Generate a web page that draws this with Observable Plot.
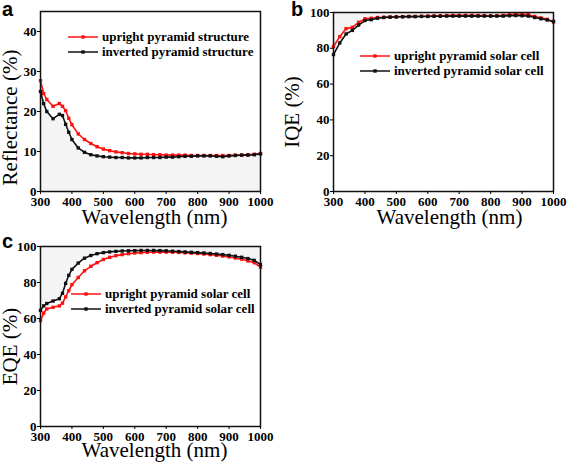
<!DOCTYPE html>
<html>
<head>
<meta charset="utf-8">
<script src="https://cdn.jsdelivr.net/npm/d3@7"></script>
<script src="https://cdn.jsdelivr.net/npm/@observablehq/plot@0.6"></script>
<style>
  body { margin: 0; background: #fff; }
  #wrap { position: relative; width: 567px; height: 465px; overflow: hidden; background: #fff; }
  .panel { position: absolute; }
  #wrap svg.panel text { font-family: "Liberation Serif", "Times New Roman", serif; }
  .tag { position: absolute; font: bold 20px "Liberation Sans", Arial, sans-serif; line-height: 18px; color: #000; }
  .legend { position: absolute; font: bold 13px "Liberation Serif", "Times New Roman", serif; color: #000; }
  .legend .row { display: flex; align-items: center; height: 15.5px; white-space: nowrap; }
  .legend svg { margin-right: 4px; }
</style>
</head>
<body>
<div id="wrap"></div>
<script>
// ---------- data ----------
const xTicks = [300, 400, 500, 600, 700, 800, 900, 1000];

// (a) reflectance
const wlA = [300,310,320,340,360,370,380,390,400,420,440,460,480,500,520,540,560,580,600,620,640,660,680,700,720,740,760,780,800,820,840,860,880,900,920,940,960,980,1000];
const reflUpright = [27.7,24.5,23.0,21.3,22.0,21.3,20.2,18.3,16.7,14.4,13.0,12.0,11.2,10.6,10.2,9.9,9.7,9.5,9.4,9.3,9.3,9.2,9.2,9.1,9.1,9.1,9.1,9.0,9.0,9.0,9.0,9.0,9.0,9.0,9.1,9.1,9.2,9.3,9.5];
const reflInverted = [25.0,22.0,20.0,18.2,19.3,19.0,16.8,14.8,13.0,10.9,9.8,9.2,8.9,8.7,8.6,8.5,8.5,8.4,8.4,8.4,8.5,8.5,8.5,8.6,8.6,8.7,8.8,8.8,8.9,8.9,8.9,8.8,8.7,8.9,9.0,9.1,9.1,9.2,9.4];
const yTicksA = [0, 10, 20, 30, 40];

// (b) IQE
const wlB = [300,320,340,360,380,400,420,440,460,480,500,520,540,560,580,600,620,640,660,680,700,720,740,760,780,800,820,840,860,880,900,920,940,960,980,1000];
const iqeUpright = [81,86.5,91,91.7,94.5,96.5,96.8,97.2,97.3,97.5,97.6,97.7,97.8,97.8,97.9,98.0,98.1,98.2,98.3,98.4,98.4,98.4,98.4,98.3,98.3,98.2,98.2,98.4,98.8,99.0,99.0,98.8,97.8,97.0,96.2,94.7];
const iqeInverted = [76.5,83,88,90,93,95.5,96,96.8,97.2,97.4,97.5,97.6,97.7,97.7,97.8,97.8,97.9,97.9,98,98,98,98,98,98,98,98,98,98,98.2,98.3,98.2,98,97.2,96.5,95.8,95];
const yTicksB = [0, 20, 40, 60, 80, 100];

// (c) EQE
const wlC = [300,310,320,340,360,370,380,390,400,420,440,460,480,500,520,540,560,580,600,620,640,660,680,700,720,740,760,780,800,820,840,860,880,900,920,940,960,980,1000];
const eqeUpright = [58.8,63,65.3,66.2,67,68.5,72,75.5,78.8,82.8,86.5,89,91,92.8,94,94.9,95.5,96,96.4,96.6,96.8,96.9,96.9,96.9,96.8,96.7,96.5,96.3,96.1,95.8,95.5,95.1,94.7,94.2,93.6,93,92,91,88.5];
const eqeInverted = [64.5,67,68.3,69.7,71,74,79.5,84,87.3,90.8,93.5,95,96,96.6,97,97.3,97.5,97.6,97.7,97.8,97.8,97.8,97.7,97.6,97.4,97.2,97,96.8,96.6,96.4,96.1,95.8,95.5,95.1,94.6,94,93.3,92.3,90];
const yTicksC = [0, 20, 40, 60, 80, 100];

const seriesNames = {
  a: ["upright pyramid structure", "inverted pyramid structure"],
  b: ["upright pyramid solar cell", "inverted pyramid solar cell"],
  c: ["upright pyramid solar cell", "inverted pyramid solar cell"]
};
const RED = "#ff1010", BLACK = "#111";

// ---------- drawing ----------
const wrap = document.getElementById("wrap");
const SERIF = "'Liberation Serif', 'Times New Roman', serif";

function makePanel(cfg) {
  const rows = cfg.wl.map((w, i) => ({w, up: cfg.up[i], inv: cfg.inv[i], top: cfg.yDomain[1], bottom: cfg.yDomain[0]}));
  const shade = cfg.shadeBelow
    ? Plot.areaY(rows, {x: "w", y1: "bottom", y2: "inv", fill: "#f4f4f4"})
    : Plot.areaY(rows, {x: "w", y1: "inv", y2: "top", fill: "#f4f4f4"});
  const chart = Plot.plot({
    width: cfg.width, height: cfg.height,
    marginLeft: cfg.ml, marginRight: cfg.mr, marginTop: cfg.mt, marginBottom: cfg.mb,
    style: {fontFamily: SERIF, fontSize: "13px", background: "transparent", overflow: "visible"},
    x: {domain: [300, 1000]},
    y: {domain: cfg.yDomain},
    marks: [
      shade,
      Plot.line(rows, {x: "w", y: "up", stroke: RED, strokeWidth: 1.6}),
      Plot.dot(rows, {x: "w", y: "up", symbol: "square", r: 1.9, fill: RED, stroke: "none"}),
      Plot.line(rows, {x: "w", y: "inv", stroke: BLACK, strokeWidth: 1.6}),
      Plot.dot(rows, {x: "w", y: "inv", symbol: "square", r: 1.9, fill: BLACK, stroke: "none"}),
      Plot.frame({stroke: "#111", strokeWidth: 1.5}),
      Plot.axisX({ticks: xTicks, tickFormat: d => String(d), label: null, tickSize: 3, tickPadding: 2,
                  fontSize: 13, fontWeight: "bold", fontFamily: SERIF}),
      Plot.axisY({ticks: cfg.yTicks, tickFormat: d => String(d), label: null, tickSize: 3, tickPadding: 1,
                  fontSize: 13, fontWeight: "bold", fontFamily: SERIF}),
      Plot.text(["Wavelength (nm)"], {frameAnchor: "bottom", dx: cfg.xTitleDx, dy: cfg.xTitleDy,
                  lineAnchor: "middle", textAnchor: "middle",
                  fontSize: 21, fontWeight: "normal", fontFamily: SERIF}),
      Plot.text([cfg.yLabel], {frameAnchor: "left", rotate: -90, dx: cfg.yTitleDx, dy: cfg.yTitleDy,
                  lineAnchor: "middle", textAnchor: "middle",
                  fontSize: 21, fontWeight: "normal", fontFamily: SERIF})
    ]
  });
  chart.classList.add("panel");
  chart.style.left = cfg.left + "px";
  chart.style.top = cfg.top + "px";
  wrap.appendChild(chart);

  // panel tag
  const tag = document.createElement("div");
  tag.className = "tag";
  tag.textContent = cfg.tag;
  tag.style.left = cfg.tagX + "px";
  tag.style.top = cfg.tagY + "px";
  wrap.appendChild(tag);

  // legend
  const leg = document.createElement("div");
  leg.className = "legend";
  leg.style.left = cfg.legX + "px";
  leg.style.top = cfg.legY + "px";
  [[RED, cfg.names[0]], [BLACK, cfg.names[1]]].forEach(([c, name]) => {
    const row = document.createElement("div");
    row.className = "row";
    row.innerHTML = `<svg width="30" height="8"><line x1="0" y1="4" x2="30" y2="4" stroke="${c}" stroke-width="1.5"/><rect x="13.3" y="2.3" width="3.4" height="3.4" fill="${c}"/></svg><span>${name}</span>`;
    leg.appendChild(row);
  });
  wrap.appendChild(leg);
}

makePanel({
  tag: "a", tagX: 2, tagY: 0,
  left: 0, top: 0, width: 280, height: 230, ml: 40, mr: 20, mt: 11, mb: 39,
  wl: wlA, up: reflUpright, inv: reflInverted, yDomain: [0, 45], yTicks: yTicksA,
  yLabel: "Reflectance (%)", xTitleDx: 4, xTitleDy: 26, yTitleDx: -30, yTitleDy: 16, shadeBelow: true,
  names: seriesNames.a, legX: 68, legY: 29
});
makePanel({
  tag: "b", tagX: 291, tagY: 0,
  left: 280, top: 0, width: 287, height: 230, ml: 53, mr: 14, mt: 12, mb: 39,
  wl: wlB, up: iqeUpright, inv: iqeInverted, yDomain: [0, 100], yTicks: yTicksB,
  yLabel: "IQE (%)", xTitleDx: 6, xTitleDy: 26, yTitleDx: -41, yTitleDy: 10, shadeBelow: false,
  names: seriesNames.b, legX: 360, legY: 48
});
makePanel({
  tag: "c", tagX: 2, tagY: 232,
  left: 0, top: 230, width: 280, height: 235, ml: 40, mr: 20, mt: 16, mb: 39,
  wl: wlC, up: eqeUpright, inv: eqeInverted, yDomain: [0, 100], yTicks: yTicksC,
  yLabel: "EQE (%)", xTitleDx: 4, xTitleDy: 24, yTitleDx: -30, yTitleDy: 10, shadeBelow: false,
  names: seriesNames.c, legX: 71, legY: 286
});
</script>
</body>
</html>
